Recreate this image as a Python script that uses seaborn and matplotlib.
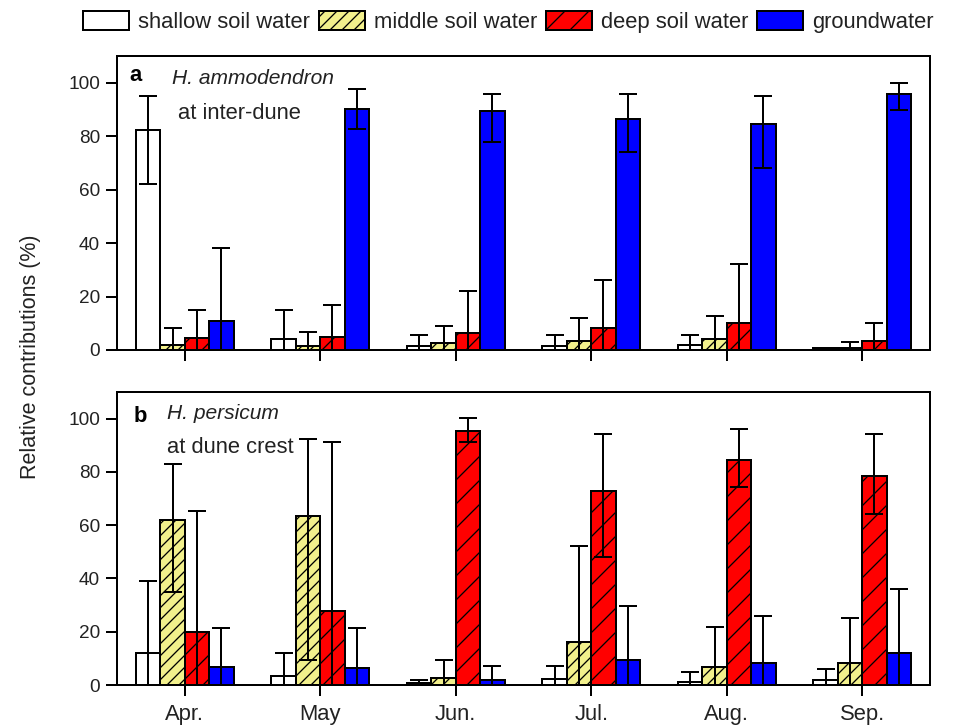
import numpy as np
import pandas as pd
import matplotlib
matplotlib.use("Agg")
import matplotlib.pyplot as plt
import seaborn as sns
from matplotlib.patches import Patch

# ---------------- data ----------------
months = ["Apr.", "May", "Jun.", "Jul.", "Aug.", "Sep."]
sources = ["shallow soil water", "middle soil water", "deep soil water", "groundwater"]

# panel a: H. ammodendron at inter-dune
a_shallow = [82.5, 4.0, 1.6, 1.6, 1.8, 0.6]
a_shallow_hi = [95.0, 15.0, 5.6, 5.6, 5.6, 0.9]
a_shallow_lo = [62.0, 0, 0, 0, 0, 0]
a_middle = [1.9, 1.5, 2.7, 3.4, 4.0, 0.8]
a_middle_hi = [8.1, 6.9, 9.0, 12.1, 12.9, 2.9]
a_middle_lo = [0, 0, 0, 0, 0, 0]
a_deep = [4.4, 4.7, 6.5, 8.4, 10.0, 3.4]
a_deep_hi = [15.0, 16.9, 22.2, 26.2, 32.1, 10.0]
a_deep_lo = [0, 0, 0, 0, 0, 0]
a_ground = [11.0, 90.1, 89.3, 86.5, 84.6, 95.9]
a_ground_hi = [38.0, 97.6, 95.8, 95.9, 94.9, 100.0]
a_ground_lo = [0, 82.8, 78.0, 73.9, 68.0, 89.9]

# panel b: H. persicum at dune crest
b_shallow = [12.1, 3.4, 0.6, 2.1, 1.3, 1.9]
b_shallow_hi = [39.1, 12.1, 1.9, 7.1, 5.0, 6.0]
b_shallow_lo = [0, 0, 0, 0, 0, 0]
b_middle = [62.0, 63.3, 2.8, 16.3, 6.9, 8.4]
b_middle_hi = [83.1, 92.4, 9.2, 52.3, 21.9, 25.0]
b_middle_lo = [35.1, 9.2, 0, 0, 0, 0]
b_deep = [20.0, 27.9, 95.5, 72.7, 84.3, 78.6]
b_deep_hi = [65.2, 91.2, 100.2, 94.2, 96.1, 94.2]
b_deep_lo = [0, 0, 91.2, 48.2, 74.2, 64.2]
b_ground = [6.6, 6.3, 1.9, 9.4, 8.4, 11.9]
b_ground_hi = [21.3, 21.3, 7.1, 29.8, 26.0, 36.1]
b_ground_lo = [0, 0, 0, 0, 0, 0]

colors = ["#ffffff", "#f2f08c", "#ff0000", "#0000ff"]
hatches = ["", "//", "/", ""]

panels = [
    dict(letter="a", species="H. ammodendron", site="at inter-dune",
         vals=[a_shallow, a_middle, a_deep, a_ground],
         hi=[a_shallow_hi, a_middle_hi, a_deep_hi, a_ground_hi],
         lo=[a_shallow_lo, a_middle_lo, a_deep_lo, a_ground_lo]),
    dict(letter="b", species="H. persicum", site="at dune crest",
         vals=[b_shallow, b_middle, b_deep, b_ground],
         hi=[b_shallow_hi, b_middle_hi, b_deep_hi, b_ground_hi],
         lo=[b_shallow_lo, b_middle_lo, b_deep_lo, b_ground_lo]),
]

# ---------------- style ----------------
sns.set_theme(style="ticks")
plt.rcParams["font.family"] = ["Liberation Sans", "DejaVu Sans"]
plt.rcParams["hatch.linewidth"] = 1.3
plt.rcParams["hatch.color"] = "black"

DPI = 72
fig = plt.figure(figsize=(955 / DPI, 726 / DPI), dpi=DPI)
W, H = 955, 726
ax_rects = [
    [117 / W, 1 - 350 / H, (930 - 117) / W, (350 - 56) / H],
    [117 / W, 1 - 685 / H, (930 - 117) / W, (685 - 392) / H],
]
TXT = "#222222"

for k, p in enumerate(panels):
    ax = fig.add_axes(ax_rects[k])
    rows = []
    for s, src in enumerate(sources):
        for m, mon in enumerate(months):
            rows.append({"month": mon, "source": src, "value": p["vals"][s][m]})
    df = pd.DataFrame(rows)
    sns.barplot(data=df, x="month", y="value", hue="source",
                order=months, hue_order=sources, palette=colors,
                edgecolor="black", linewidth=2, width=0.72, gap=0,
                errorbar=None, saturation=1, legend=False, ax=ax)
    bar_conts = list(ax.containers)
    for s, cont in enumerate(bar_conts):
        xs = []
        for bar in cont.patches:
            bar.set_hatch(hatches[s])
            bar.set_edgecolor("black")
            xs.append(bar.get_x() + bar.get_width() / 2)
        v = np.array(p["vals"][s], dtype=float)
        hi = np.array(p["hi"][s], dtype=float)
        lo = np.array(p["lo"][s], dtype=float)
        ax.errorbar(xs, v, yerr=[v - lo, hi - v], fmt="none", ecolor="black",
                    elinewidth=2, capsize=9, capthick=2, zorder=5)
    ax.set_xlim(-0.5, 5.5)
    ax.set_ylim(0, 110)
    ax.set_yticks([0, 20, 40, 60, 80, 100])
    ax.set_xlabel("")
    ax.set_ylabel("")
    for sp in ax.spines.values():
        sp.set_visible(True)
        sp.set_linewidth(2)
        sp.set_color("black")
        sp.set_zorder(6)
    ax.tick_params(axis="both", direction="out", length=11, width=2,
                   colors="black", labelcolor=TXT)
    ax.tick_params(axis="y", labelsize=19, pad=6)
    ax.tick_params(axis="x", labelsize=22, pad=8)
    if k == 0:
        ax.set_xticklabels([])
    ax.text(0.015 if k == 0 else 0.021, 0.932 if k == 0 else 0.915, p["letter"],
            transform=ax.transAxes, fontsize=22, fontweight="bold",
            va="center", ha="left", color="black")
    ax.text(0.0677 if k == 0 else 0.0615, 0.922 if k == 0 else 0.928, p["species"],
            transform=ax.transAxes, fontsize=21, style="italic",
            va="center", ha="left", color=TXT)
    ax.text(0.075 if k == 0 else 0.0615, 0.806 if k == 0 else 0.809, p["site"],
            transform=ax.transAxes, fontsize=22,
            va="center", ha="left", color=TXT)

fig.text(31 / W, 1 - 357 / H, "Relative contributions (%)", rotation=90,
         fontsize=21.5, va="center", ha="center", color=TXT)

handles = [Patch(facecolor=colors[i], edgecolor="black", hatch=hatches[i],
                 linewidth=2, label=sources[i]) for i in range(4)]
leg = fig.legend(handles=handles, loc="center", bbox_to_anchor=(0.532, 0.970),
                 ncol=4, frameon=False, fontsize=22, handlelength=2.1,
                 handleheight=1.0, handletextpad=0.4, columnspacing=0.4,
                 borderpad=0, borderaxespad=0)
for t in leg.get_texts():
    t.set_color(TXT)

fig.savefig("out.png", dpi=DPI)
